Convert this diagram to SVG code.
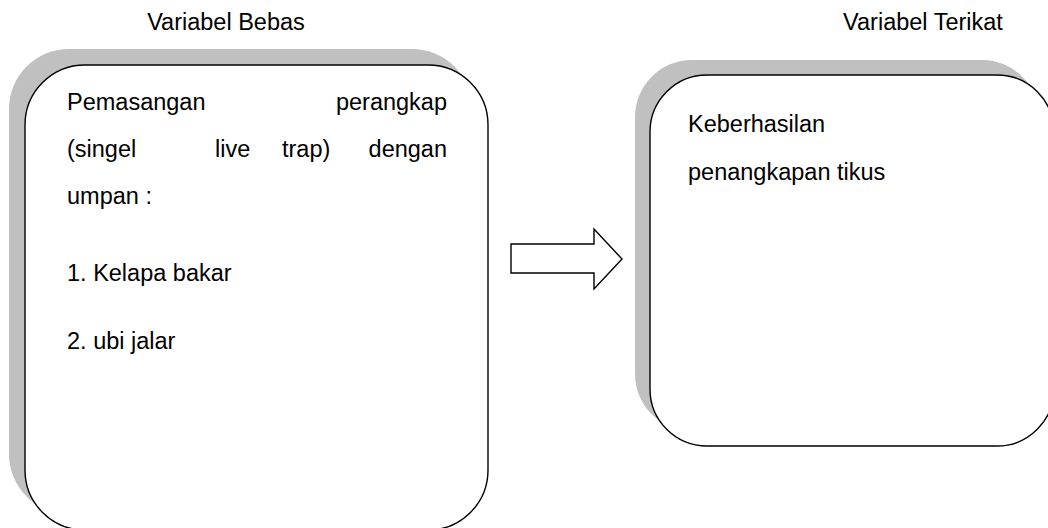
<svg xmlns="http://www.w3.org/2000/svg" width="1048" height="528" viewBox="0 0 1048 528">
<style>
.t{font-family:"Liberation Sans",Arial,sans-serif;font-size:23.5px;fill:#000}
.shadow{fill:#c0c0c0;stroke:none}
.box{fill:#fff;stroke:#000;stroke-width:1.4}
</style>
<rect width="1048" height="528" fill="#fff"/>
<g id="label-bebas"><text class="t" x="226" y="30" text-anchor="middle">Variabel Bebas</text></g>
<g id="label-terikat"><text class="t" x="923" y="30" text-anchor="middle">Variabel Terikat</text></g>
<g id="node-bebas">
<rect class="shadow" x="9" y="49" width="463" height="465" rx="60" ry="60"/>
<rect class="box" x="25" y="65" width="463" height="465" rx="60" ry="60"/>
<text class="t" x="67" y="110">Pemasangan</text>
<text class="t" x="447" y="110" text-anchor="end">perangkap</text>
<text class="t" x="67" y="157">(singel</text>
<text class="t" x="215" y="157">live</text>
<text class="t" x="282" y="157">trap)</text>
<text class="t" x="447" y="157" text-anchor="end">dengan</text>
<text class="t" x="67" y="204">umpan :</text>
<text class="t" x="67" y="281">1. Kelapa bakar</text>
<text class="t" x="67" y="349">2. ubi jalar</text>
</g>
<g id="node-terikat">
<rect class="shadow" x="635" y="60" width="404" height="371" rx="57" ry="57"/>
<rect class="box" x="650" y="75" width="404" height="371" rx="57" ry="57"/>
<text class="t" x="688" y="132">Keberhasilan</text>
<text class="t" x="688" y="180">penangkapan tikus</text>
</g>
<g id="connectors">
<polygon points="511,244 594,244 594,229 622,259 594,289 594,273 511,273" fill="#fff" stroke="#000" stroke-width="1.4"/>
</g>
</svg>
